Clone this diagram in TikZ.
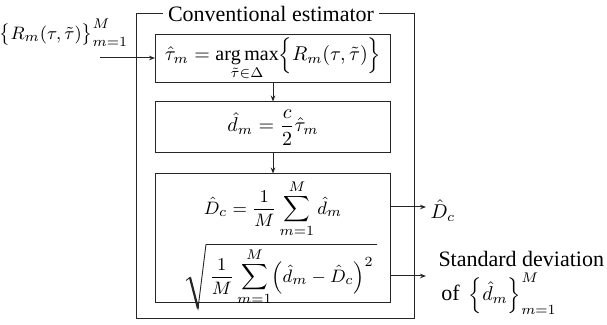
\documentclass[tikz,border=0pt]{standalone}
\usepackage{amsmath}
\usepackage{exscale}
\usepackage{fontspec}
\setmainfont{Liberation Serif}
\usetikzlibrary{arrows.meta,calc}
\begin{document}
\begin{tikzpicture}[x=0.5pt,y=-0.5pt,
  font=\fontsize{11}{13}\selectfont\rmfamily,
  line width=0.5pt, draw=black!85,
  blk/.style={draw, minimum width=117.5pt, inner sep=0pt},
  lbl/.style={inner sep=0pt},
  mth/.style={font=\fontsize{10}{12}\selectfont},
  mths/.style={font=\fontsize{9.3}{11}\selectfont},
  arr/.style={-{Stealth[length=3pt,width=2.3pt]}}]
\useasboundingbox (0,0) rectangle (607,325);
% outer frame
\draw (136,14) rectangle (414,319);
\node[fill=white, inner xsep=2.5pt, inner ysep=1pt] (title) at (271,14) {Conventional estimator};
% blocks
\node[blk, mth, minimum height=24pt] (b1) at (273,59)
  {$\displaystyle \hat{\tau}_m=\mathop{\arg\max}_{\tilde{\tau}\in\Delta}\Bigl\{R_m(\tau,\tilde{\tau})\Bigr\}$};
\node[blk, mth, minimum height=25.5pt] (b2) at (273,127.5)
  {$\displaystyle \hat{d}_m=\frac{c}{2}\hat{\tau}_m$};
\node[blk, minimum height=64.5pt] (b3) at (273,238.5) {};
\node[lbl, mths] (f1) at (273,209) {$\displaystyle \hat{D}_c=\frac{1}{M}\sum_{m=1}^{M}\hat{d}_m$};
\node[lbl, mths, anchor=west] (f2) at (209,277) {$\displaystyle \frac{1}{M}\sum_{m=1}^{M}\Bigl(\hat{d}_m-\hat{D}_c\Bigr)^2$};
% radical sign
\coordinate (rtop) at ($(f2.north west)+(-3,-3)$);
\coordinate (rbot) at ($(f2.south west)+(-11,2)$);
\draw[line width=0.45pt, line join=miter]
  ($(rbot)+(-12,-28)$) -- ($(rbot)+(-8,-31)$) -- (rbot) -- (rtop) -- ($(f2.north east)+(3,-3)$);
\draw[line width=1.1pt] ($(rbot)+(-8,-31)$) -- (rbot);
% input
\node[lbl, mths] (in) at (64,33) {$\bigl\{R_m(\tau,\tilde{\tau})\bigr\}_{m=1}^{M}$};
\coordinate (inS) at (100,58);
\draw[arr] (inS) -- (b1.west |- inS);
% vertical arrows
\draw[arr] (b1.south) -- (b2.north);
\draw[arr] (b2.south) -- (b3.north);
% outputs
\coordinate (o1) at (426,207);
\coordinate (o2) at (426,276);
\draw[arr] (b3.east |- o1) -- (o1);
\draw[arr] (b3.east |- o2) -- (o2);
\node[lbl, mth, anchor=west] (Dc) at (430,211) {$\hat{D}_c$};
\node[lbl, anchor=west] (sd) at (438,259) {Standard deviation};
\node[lbl, anchor=west] (of) at (441,294) {of\, {\fontsize{10}{12}\selectfont$\Bigl\{\hat{d}_m\Bigr\}_{m=1}^{M}$}};
\end{tikzpicture}
\end{document}
